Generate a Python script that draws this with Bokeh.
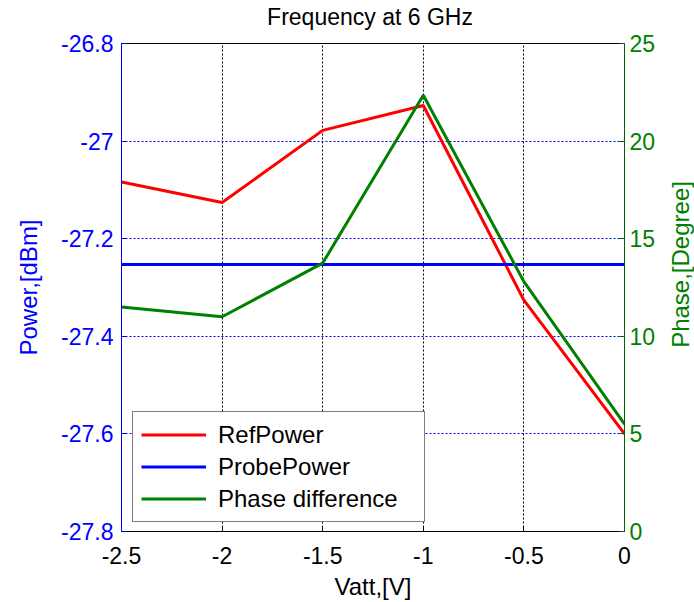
from bokeh.plotting import figure
from bokeh.models import Range1d, LinearAxis, FixedTicker, Legend, LegendItem
from bokeh.layouts import column, row
from bokeh.core.properties import value
from bokeh.embed import file_html
from bokeh.resources import INLINE

# ---- data ----
vatt = [-2.5, -2.0, -1.5, -1.0, -0.5, 0.0]
ref_power = [-27.084, -27.126, -26.978, -26.927, -27.326, -27.600]
probe_power = [-27.253, -27.253, -27.253, -27.253, -27.253, -27.253]
phase_diff = [11.5, 11.0, 13.75, 22.35, 12.8, 5.5]

x_ticks = [-2.5, -2.0, -1.5, -1.0, -0.5, 0.0]
x_tick_labels = ["-2.5", "-2", "-1.5", "-1", "-0.5", "0"]
power_ticks = [-27.8, -27.6, -27.4, -27.2, -27.0, -26.8]
power_tick_labels = ["-27.8", "-27.6", "-27.4", "-27.2", "-27", "-26.8"]
phase_ticks = [0, 5, 10, 15, 20, 25]
phase_tick_labels = ["0", "5", "10", "15", "20", "25"]

title_text = "Frequency at 6 GHz"
x_label = "Vatt,[V]"
left_label = "Power,[dBm]"
right_label = "Phase,[Degree]"
legend_labels = ["RefPower", "ProbePower", "Phase difference"]

FONT = "Liberation Sans"
GREEN = "#008000"
BLUE = "#0000ff"
RED = "#ff0000"
TICK_FS = "23px"
LABEL_FS = "24px"

W, H = 694, 602
TITLE_H = 30
LABEL_W = 27
MAIN_W = W - LABEL_W
MAIN_H = H - TITLE_H
FRAME_TOP = 43


def text_panel(width, height):
    f = figure(width=width, height=height, x_range=Range1d(0, width), y_range=Range1d(0, height),
               output_backend="svg", toolbar_location=None, title=None,
               x_axis_location=None, y_axis_location=None,
               min_border=0, min_border_left=0, min_border_right=0,
               min_border_top=0, min_border_bottom=0)
    f.outline_line_color = None
    f.background_fill_color = "white"
    f.border_fill_color = "white"
    f.grid.visible = False
    return f


# ---- title panel ----
tf = text_panel(W, TITLE_H)
tf.text(x=[369.5], y=[TITLE_H - 16.5], text=[title_text], text_align="center",
        text_baseline="middle", text_font=value(FONT), text_font_size=value("23px"),
        text_color="black")

# ---- main plot ----
p = figure(width=MAIN_W, height=MAIN_H, x_range=Range1d(-2.5, 0), y_range=Range1d(-27.8, -26.8),
           output_backend="svg", toolbar_location=None, title=None,
           min_border_left=121, min_border_right=43, min_border_top=FRAME_TOP - TITLE_H,
           min_border_bottom=70)
p.extra_y_ranges = {"phase": Range1d(0, 25)}

p.background_fill_color = "white"
p.border_fill_color = "white"
p.outline_line_color = "black"
p.outline_line_width = 1

# x axis
xa = p.below[0]
xa.ticker = FixedTicker(ticks=x_ticks)
xa.major_label_overrides = dict(zip(x_ticks, x_tick_labels))
xa.axis_label = x_label
xa.axis_line_color = "black"
xa.major_tick_line_color = "black"
xa.major_tick_in = 5
xa.major_tick_out = 0
xa.minor_tick_line_color = None
xa.major_label_standoff = 15
xa.axis_label_standoff = 6
xa.major_label_text_font = FONT
xa.major_label_text_font_size = TICK_FS
xa.major_label_text_color = "black"
xa.axis_label_text_font = FONT
xa.axis_label_text_font_size = LABEL_FS
xa.axis_label_text_font_style = "normal"
xa.axis_label_text_color = "black"

# left axis
ya = p.left[0]
ya.ticker = FixedTicker(ticks=power_ticks)
ya.major_label_overrides = dict(zip(power_ticks, power_tick_labels))
ya.axis_label = left_label
ya.axis_line_color = BLUE
ya.major_tick_line_color = BLUE
ya.major_tick_in = 5
ya.major_tick_out = 0
ya.minor_tick_line_color = None
ya.major_label_standoff = 8
ya.axis_label_standoff = 16
ya.major_label_text_font = FONT
ya.major_label_text_font_size = TICK_FS
ya.major_label_text_color = BLUE
ya.axis_label_text_font = FONT
ya.axis_label_text_font_size = LABEL_FS
ya.axis_label_text_font_style = "normal"
ya.axis_label_text_color = BLUE

# right axis
ra = LinearAxis(y_range_name="phase", ticker=FixedTicker(ticks=phase_ticks))
ra.major_label_overrides = dict(zip(phase_ticks, phase_tick_labels))
ra.axis_line_color = "#006400"
ra.major_tick_line_color = "#006400"
ra.major_tick_in = 5
ra.major_tick_out = 0
ra.minor_tick_line_color = None
ra.major_label_standoff = 5
ra.major_label_text_font = FONT
ra.major_label_text_font_size = TICK_FS
ra.major_label_text_color = GREEN
p.add_layout(ra, "right")

# grids
p.xgrid.grid_line_color = "black"
p.xgrid.grid_line_dash = "2 2"
p.xgrid.grid_line_width = 1
p.ygrid.grid_line_color = BLUE
p.ygrid.grid_line_dash = "2 2"
p.ygrid.grid_line_width = 1

# lines
r_ref = p.line(vatt, ref_power, line_color=RED, line_width=3)
r_probe = p.line(vatt, probe_power, line_color=BLUE, line_width=3)
r_phase = p.line(vatt, phase_diff, line_color=GREEN, line_width=3, y_range_name="phase")

legend = Legend(items=[LegendItem(label=legend_labels[0], renderers=[r_ref]),
                       LegendItem(label=legend_labels[1], renderers=[r_probe]),
                       LegendItem(label=legend_labels[2], renderers=[r_phase])],
                location=(11, 9))
legend.border_line_color = "black"
legend.border_line_width = 1
legend.background_fill_color = "white"
legend.background_fill_alpha = 1
legend.padding = 8
legend.spacing = 3
legend.margin = 0
legend.label_height = 29
legend.glyph_height = 29
legend.glyph_width = 65
legend.label_standoff = 12
legend.label_width = 198
legend.label_text_font = FONT
legend.label_text_font_size = "24px"
legend.label_text_color = "black"
p.add_layout(legend)

# ---- right axis label panel (reads bottom-to-top) ----
lf = text_panel(LABEL_W, MAIN_H)
lf.text(x=[13], y=[MAIN_H - (289 - TITLE_H)], text=[right_label], angle=90, angle_units="deg",
        text_align="center", text_baseline="middle", text_font=value(FONT),
        text_font_size=value(LABEL_FS), text_color=GREEN)

layout = column(tf, row(p, lf, spacing=0), spacing=0)

open("out.html", "w").write(file_html(layout, INLINE))
